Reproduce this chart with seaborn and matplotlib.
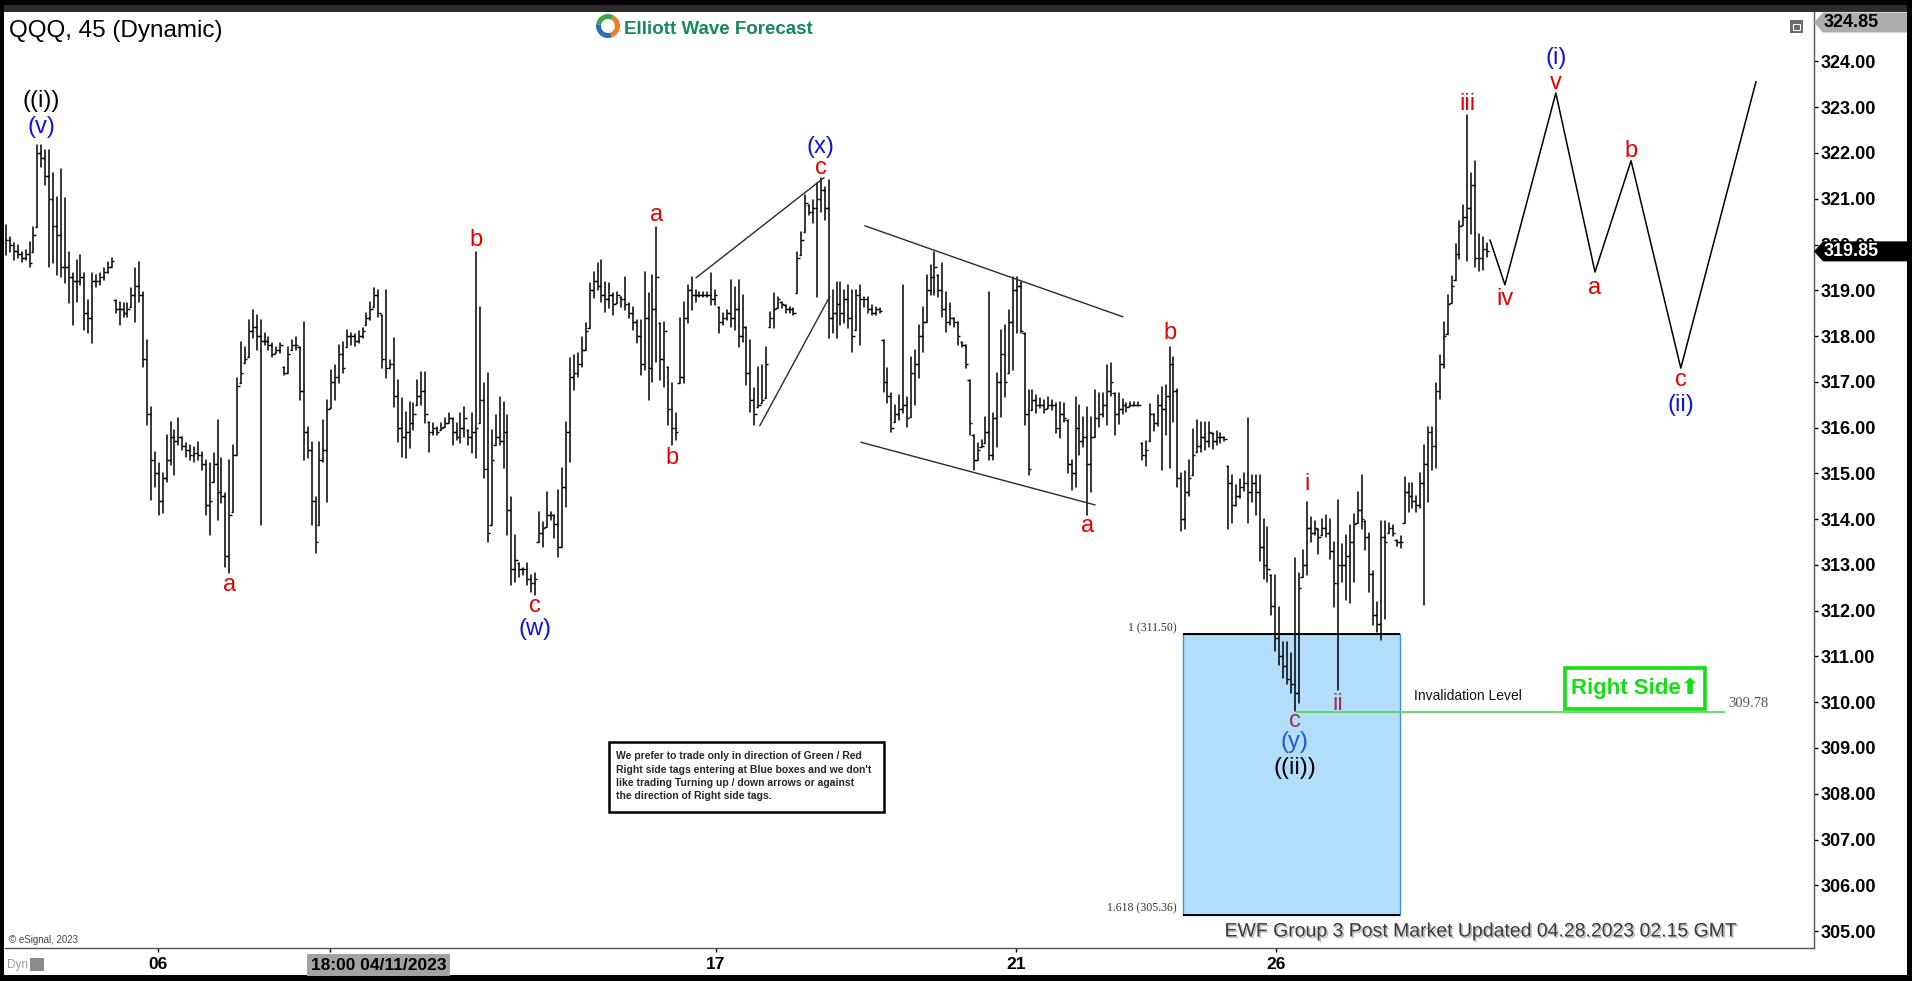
import numpy as np
import pandas as pd
import seaborn as sns
import matplotlib.pyplot as plt
from matplotlib import patches
from matplotlib.transforms import IdentityTransform
import matplotlib.patheffects as pe

# ---------------- DATA (QQQ 45 min bars) ----------------
high = [
    320.43, 320.16, 320.03, 319.99, 319.84, 319.88, 320.06, 320.39, 322.18, 322.18,
    322.07, 322.07, 321.57, 321.04, 321.65, 321.02, 319.84, 319.38, 319.66, 319.77,
    319.38, 318.79, 319.38, 319.34, 319.38, 319.49, 319.62, 319.71, 318.79, 318.75,
    318.72, 318.72, 319.05, 319.49, 319.62, 318.97, 317.92, 316.45, 315.47, 315.23,
    315.01, 315.84, 316.12, 315.95, 316.21, 315.80, 315.66, 315.62, 315.58, 315.68,
    315.47, 315.29, 315.23, 315.44, 316.17, 315.34, 314.57, 315.29, 315.62, 317.09,
    317.87, 317.76, 318.35, 318.57, 318.46, 318.35, 318.07, 317.98, 317.85, 317.76,
    317.85, 317.33, 317.76, 317.92, 317.98, 317.76, 318.31, 316.01, 315.68, 314.48,
    315.68, 316.17, 316.60, 317.26, 317.37, 317.81, 317.87, 318.13, 318.07, 318.05,
    318.10, 318.18, 318.50, 318.75, 319.05, 319.01, 318.46, 319.01, 317.48, 317.96,
    317.04, 316.65, 316.34, 316.56, 316.54, 317.04, 317.22, 317.22, 316.12, 316.10,
    316.01, 316.10, 316.21, 316.32, 316.21, 316.10, 316.32, 316.45, 315.95, 316.32,
    319.84, 318.64, 316.98, 317.19, 315.95, 316.28, 316.67, 316.56, 316.28, 314.48,
    313.65, 313.04, 312.93, 313.04, 312.78, 312.82, 314.16, 313.94, 314.59, 314.16,
    314.09, 314.64, 315.12, 316.12, 317.52, 317.59, 317.63, 317.98, 318.28, 319.16,
    319.40, 319.60, 319.66, 319.18, 319.16, 318.94, 318.97, 318.86, 319.29, 318.72,
    318.64, 318.35, 318.35, 319.40, 318.94, 319.34, 320.38, 318.28, 318.31, 317.33,
    316.98, 316.32, 318.40, 318.75, 319.12, 319.29, 319.01, 318.97, 318.97, 318.97,
    319.38, 319.01, 318.64, 318.50, 318.57, 319.23, 319.07, 319.23, 318.90, 318.20,
    317.92, 316.87, 317.33, 317.37, 317.76, 318.53, 318.94, 318.86, 318.75, 318.68,
    318.64, 318.61, 319.84, 320.28, 321.08, 320.87, 320.98, 321.35, 321.46, 321.26,
    321.41, 319.01, 319.18, 319.18, 319.01, 319.12, 319.01, 319.01, 319.12, 318.86,
    318.86, 318.68, 318.64, 318.61, 317.92, 317.30, 316.76, 316.50, 316.71, 319.12,
    316.67, 317.54, 317.70, 318.24, 318.64, 319.34, 319.55, 319.84, 319.34, 319.60,
    318.97, 318.72, 318.40, 318.31, 317.87, 317.81, 317.04, 315.84, 315.66, 315.73,
    316.23, 318.97, 316.32, 317.19, 318.13, 318.24, 318.57, 319.29, 319.29, 319.18,
    318.07, 316.82, 316.82, 316.71, 316.65, 316.60, 316.67, 316.60, 316.54, 316.56,
    316.54, 316.17, 315.29, 316.67, 316.50, 316.23, 316.45, 316.23, 316.82, 316.76,
    316.76, 317.37, 317.41, 316.76, 316.76, 316.63, 316.54, 316.55, 316.55, 316.55,
    315.66, 315.71, 316.52, 316.30, 316.71, 316.89, 316.93, 317.76, 317.54, 316.84,
    315.01, 315.05, 315.29, 315.97, 316.17, 316.12, 316.12, 316.12, 315.88, 315.93,
    315.88, 315.80, 315.16, 314.97, 314.75, 314.88, 315.01, 316.21, 314.97, 314.97,
    314.97, 314.00, 313.83, 312.78, 312.78, 312.08, 311.32, 311.32, 311.08, 313.15,
    312.82, 313.33, 314.37, 314.05, 313.96, 313.79, 314.00, 314.09, 314.00, 313.50,
    314.42, 313.46, 313.65, 313.87, 314.11, 314.59, 314.97, 313.96, 313.70, 312.87,
    312.19, 313.96, 313.96, 313.92, 313.87, 313.55, 313.63, 314.92, 314.79, 314.79,
    314.51, 315.01, 315.62, 316.01, 316.01, 316.98, 317.59, 318.31, 318.90, 319.31,
    320.01, 320.52, 320.87, 322.83, 321.57, 321.83, 320.23, 320.17, 320.04,
]
low = [
    319.77, 319.83, 319.66, 319.71, 319.62, 319.66, 319.51, 319.84, 320.39, 321.70,
    321.30, 319.51, 319.60, 319.34, 319.29, 319.16, 318.72, 318.24, 318.75, 319.12,
    318.13, 318.07, 317.85, 319.07, 319.12, 319.23, 319.38, 319.51, 318.50, 318.24,
    318.42, 318.42, 318.64, 318.31, 318.75, 317.33, 316.06, 314.42, 314.70, 314.09,
    314.14, 314.81, 315.18, 314.97, 315.62, 315.51, 315.36, 315.29, 315.25, 315.29,
    315.08, 314.09, 313.65, 314.81, 313.98, 314.35, 312.96, 312.82, 314.16, 315.40,
    316.98, 317.41, 317.54, 317.96, 317.70, 313.87, 317.81, 317.70, 317.54, 317.63,
    317.63, 317.15, 317.19, 317.70, 317.70, 316.60, 315.29, 315.34, 313.87, 313.26,
    313.87, 315.25, 314.38, 316.43, 316.60, 316.98, 317.19, 317.76, 317.81, 317.78,
    317.85, 317.96, 318.24, 318.35, 318.64, 318.42, 317.30, 317.09, 317.30, 316.45,
    315.69, 315.36, 315.34, 315.56, 315.95, 316.50, 316.50, 316.10, 315.47, 315.84,
    315.84, 315.95, 316.01, 316.10, 315.62, 315.73, 315.66, 315.80, 315.62, 315.45,
    315.34, 316.10, 314.90, 313.50, 313.87, 315.62, 315.62, 315.12, 313.65, 312.56,
    312.63, 312.74, 312.78, 312.56, 312.41, 312.34, 313.50, 313.39, 313.83, 313.98,
    313.59, 313.18, 313.39, 314.27, 315.25, 316.82, 317.11, 317.33, 317.70, 318.18,
    318.83, 319.01, 318.75, 318.53, 318.61, 318.46, 318.72, 318.64, 318.57, 318.40,
    318.13, 317.85, 317.15, 317.26, 316.60, 316.99, 317.44, 317.04, 316.89, 316.06,
    315.62, 315.73, 316.98, 316.98, 318.29, 318.57, 318.75, 318.86, 318.86, 318.86,
    318.68, 318.68, 318.07, 318.24, 318.35, 318.20, 318.13, 317.76, 317.87, 316.93,
    316.34, 316.06, 316.45, 316.54, 316.65, 318.20, 318.18, 318.61, 318.61, 318.50,
    318.50, 318.46, 318.94, 319.77, 320.28, 320.65, 320.47, 318.86, 320.71, 320.54,
    317.96, 318.07, 317.96, 318.24, 318.29, 318.18, 317.65, 318.13, 317.81, 318.64,
    318.50, 318.46, 318.46, 318.50, 316.78, 316.54, 315.91, 316.12, 316.17, 316.32,
    316.01, 316.23, 316.50, 317.09, 317.65, 318.31, 318.90, 318.90, 318.86, 318.42,
    318.09, 318.24, 318.20, 317.81, 317.76, 317.30, 315.84, 315.08, 315.29, 315.58,
    315.66, 315.29, 315.29, 315.58, 316.23, 316.67, 317.19, 317.26, 318.07, 318.07,
    316.06, 314.97, 316.39, 316.32, 316.43, 316.32, 316.43, 316.39, 315.88, 315.77,
    316.12, 315.01, 314.64, 314.70, 315.40, 315.58, 314.09, 314.59, 315.80, 316.01,
    316.23, 316.06, 316.69, 315.84, 316.08, 316.30, 316.34, 316.47, 316.47, 316.47,
    315.29, 315.16, 315.71, 315.93, 316.04, 315.08, 315.84, 315.12, 316.12, 314.70,
    313.74, 313.79, 314.51, 314.97, 315.47, 315.47, 315.51, 315.58, 315.53, 315.62,
    315.66, 315.71, 313.79, 313.92, 314.29, 314.46, 314.62, 313.92, 314.38, 314.09,
    313.09, 312.69, 312.63, 311.91, 311.12, 310.81, 310.53, 310.40, 310.20, 309.81,
    309.98, 312.74, 312.78, 313.50, 313.65, 313.24, 313.65, 313.61, 313.13, 312.08,
    310.27, 312.63, 312.23, 312.17, 312.63, 313.92, 313.79, 313.33, 312.41, 311.69,
    311.53, 311.36, 311.82, 313.70, 313.63, 313.42, 313.37, 313.92, 314.16, 314.25,
    314.16, 314.25, 312.12, 314.38, 315.08, 315.12, 316.63, 317.30, 318.05, 318.72,
    319.23, 319.69, 320.43, 319.64, 320.23, 319.51, 319.42, 319.45, 319.73,
]
close = [
    320.10, 320.00, 319.85, 319.80, 319.70, 319.80, 319.60, 320.20, 322.00, 321.90,
    321.50, 321.00, 320.40, 320.20, 319.50, 319.50, 319.30, 319.20, 319.20, 319.30,
    318.50, 318.40, 319.20, 319.20, 319.30, 319.40, 319.50, 319.65, 318.60, 318.60,
    318.50, 318.60, 318.90, 319.10, 318.90, 317.50, 316.30, 315.30, 315.00, 314.40,
    314.90, 315.30, 315.80, 315.70, 315.80, 315.60, 315.50, 315.40, 315.45, 315.40,
    315.20, 314.30, 314.40, 315.20, 314.60, 314.50, 313.20, 314.10, 315.40, 316.90,
    317.20, 317.50, 318.10, 318.20, 318.00, 317.90, 317.90, 317.80, 317.60, 317.70,
    317.80, 317.20, 317.60, 317.80, 317.80, 316.80, 315.90, 315.50, 314.40, 313.50,
    315.30, 315.50, 316.40, 317.00, 317.10, 317.60, 317.30, 318.00, 318.00, 317.90,
    318.00, 318.10, 318.40, 318.60, 318.90, 318.50, 317.50, 317.30, 317.40, 316.70,
    316.00, 315.80, 315.90, 316.10, 316.30, 316.70, 316.80, 316.30, 315.90, 316.00,
    315.90, 316.00, 316.10, 316.20, 315.90, 315.80, 316.00, 316.20, 315.80, 315.90,
    316.00, 316.60, 315.10, 313.70, 315.30, 315.80, 315.70, 315.90, 314.20, 312.90,
    313.10, 312.90, 312.90, 312.70, 312.60, 312.70, 313.70, 313.80, 314.10, 314.10,
    313.90, 313.40, 314.70, 315.90, 317.10, 317.20, 317.40, 317.70, 318.10, 319.00,
    319.20, 319.10, 318.90, 318.80, 318.90, 318.70, 318.90, 318.80, 318.70, 318.50,
    318.30, 318.00, 317.40, 318.40, 317.30, 318.60, 319.30, 317.50, 318.10, 316.40,
    316.00, 315.90, 317.10, 318.40, 319.00, 318.90, 318.90, 318.90, 318.90, 318.90,
    318.80, 318.90, 318.30, 318.40, 318.50, 318.40, 318.60, 318.00, 318.20, 317.20,
    316.60, 316.30, 316.50, 316.60, 317.40, 318.40, 318.60, 318.80, 318.70, 318.60,
    318.60, 318.50, 319.70, 320.10, 320.90, 320.70, 320.80, 321.00, 321.20, 320.80,
    318.40, 318.50, 318.70, 318.50, 318.80, 318.40, 318.00, 318.90, 318.80, 318.80,
    318.60, 318.50, 318.60, 318.55, 317.00, 316.70, 316.00, 316.30, 316.40, 316.50,
    316.20, 317.20, 317.40, 318.00, 318.30, 319.00, 319.30, 319.50, 319.00, 318.60,
    318.30, 318.40, 318.30, 318.00, 317.80, 317.40, 316.10, 315.30, 315.50, 315.60,
    315.90, 315.40, 316.20, 317.00, 317.60, 317.00, 318.30, 319.00, 319.10, 318.10,
    316.30, 315.10, 316.60, 316.50, 316.50, 316.40, 316.50, 316.50, 316.00, 316.30,
    316.20, 315.20, 315.00, 316.00, 315.70, 315.80, 315.20, 315.80, 316.20, 316.30,
    316.50, 316.80, 317.00, 316.30, 316.40, 316.50, 316.45, 316.50, 316.50, 316.50,
    315.40, 315.50, 316.30, 316.10, 316.50, 316.40, 316.70, 317.40, 316.80, 314.90,
    314.00, 314.60, 314.90, 315.40, 315.60, 315.80, 315.70, 315.90, 315.70, 315.80,
    315.80, 315.75, 314.80, 314.30, 314.50, 314.70, 314.80, 314.60, 314.80, 314.60,
    313.40, 313.00, 312.90, 312.10, 311.40, 311.00, 310.80, 310.50, 310.40, 310.20,
    312.50, 313.00, 313.80, 313.70, 313.80, 313.60, 313.80, 313.70, 313.30, 312.60,
    313.00, 313.00, 313.20, 313.50, 313.90, 314.20, 314.00, 313.60, 312.80, 311.90,
    311.70, 313.60, 313.50, 313.80, 313.70, 313.50, 313.50, 314.60, 314.50, 314.40,
    314.30, 314.80, 315.20, 315.90, 315.60, 316.80, 317.40, 318.00, 318.70, 319.10,
    319.80, 320.40, 320.60, 320.80, 321.30, 319.70, 319.70, 319.90, 319.85,
]

# x axis: day marks (in bar index units)
day_ticks = [38.8, 82.7, 181.2, 257.8, 324.1]
day_labels = ["06", "", "17", "21", "26"]

# projected path (i) v - (ii) abc, in bar index / price
proj_t = [378.8, 382.6, 395.6, 405.6, 414.8, 427.5, 446.7]
proj_p = [320.10, 319.12, 323.31, 319.40, 321.83, 317.30, 323.56]

# analyst trend lines (start/end in bar index / price)
trend_t = [[176.1, 208.8], [192.4, 210.3], [219.2, 285.1], [218.2, 278.0]]
trend_p = [[319.27, 321.46], [316.04, 318.87], [320.41, 318.42], [315.68, 314.31]]

# blue box and invalidation
box_t = [300.4, 355.8]
box_p = [305.36, 311.50]
invalid_t = [329.3, 438.9]
invalid_p = 309.78
last_price = 319.85
top_price = 324.85

RED = "#E60000"
BLUE = "#1010E0"
MAROON = "#A3304E"
BLUE2 = "#2256D8"

# ---------------- FIGURE ----------------
sns.set_style("white")
plt.rcParams["font.family"] = ["Liberation Sans", "DejaVu Sans"]

W, H = 1912, 981
fig = plt.figure(figsize=(W / 100, H / 100), dpi=100, facecolor="black")


def P(x, y):
    return (x / W, 1 - y / H)


def rect_px(x0, y0, x1, y1, **kw):
    r = patches.Rectangle(P(x0, y1), (x1 - x0) / W, (y1 - y0) / H,
                          transform=fig.transFigure, **kw)
    fig.add_artist(r)
    return r


rect_px(4, 12, 1907, 975, fc="white", ec="none", zorder=-5)
rect_px(4, 5, 1907, 12, fc="#2c2c2c", ec="none", zorder=-5)

ax = fig.add_axes([5 / W, 1 - 948 / H, (1814 - 5) / W, (948 - 12) / H])
ax.set_facecolor("white")

# OHLC bars through seaborn (one unit per bar)
t = np.arange(len(high))
bars = pd.DataFrame({"t": np.r_[t, t], "price": np.r_[high, low], "bar": np.r_[t, t]})
sns.lineplot(data=bars, x="t", y="price", units="bar", estimator=None, sort=False,
             color="black", lw=1.1, legend=False, ax=ax, zorder=3)
opens = np.clip(np.r_[close[0], close[:-1]], low, high)
ax.hlines(opens, t - 0.6, t, color="black", lw=1.0, zorder=3)
ax.hlines(close, t, t + 0.6, color="black", lw=1.0, zorder=3)

# trend lines
tr = pd.DataFrame({"t": np.ravel(trend_t), "p": np.ravel(trend_p),
                   "line": np.repeat(np.arange(len(trend_t)), 2)})
sns.lineplot(data=tr, x="t", y="p", units="line", estimator=None, sort=False,
             color="#2a2a2a", lw=1.0, legend=False, ax=ax, zorder=3)

# projection
sns.lineplot(x=proj_t, y=proj_p, sort=False, color="black", lw=1.1, ax=ax, zorder=3)

# blue box
ax.add_patch(patches.Rectangle((box_t[0], box_p[0]), box_t[1] - box_t[0], box_p[1] - box_p[0],
                               fc="#B3DEFB", ec="#3D8FDB", lw=1.0, zorder=1))
ax.hlines(box_p, box_t[0], box_t[1], color="black", lw=1.4, zorder=2)
ax.annotate("1 (311.50)", (box_t[0], box_p[1]), xytext=(-6, 5), textcoords="offset pixels",
            ha="right", va="center", fontsize=8.5, color="#333", family="Liberation Serif")
ax.annotate("1.618 (305.36)", (box_t[0], box_p[0]), xytext=(-6, 6), textcoords="offset pixels",
            ha="right", va="center", fontsize=8.5, color="#333", family="Liberation Serif")

# invalidation line
ax.hlines(invalid_p, invalid_t[0], invalid_t[1], color="#58D858", lw=1.3, zorder=4)
ax.annotate("Invalidation Level", (359.4, invalid_p), xytext=(0, 16), textcoords="offset pixels",
            ha="left", va="center", fontsize=10, color="#111")
ax.annotate(f"{invalid_p:.2f}", (invalid_t[1], invalid_p), xytext=(3, 9), textcoords="offset pixels",
            ha="left", va="center", fontsize=10.5, color="#555", family="Liberation Serif")

# right side tag
ax.add_patch(patches.Rectangle((397.9, 309.85), 35.7, 0.90, fc="white", ec="#12E012", lw=2.6, zorder=4))
ax.text(415.8, 310.30, "Right Side\u2B06", ha="center", va="center", color="#12E012",
        fontsize=16, fontweight="bold", zorder=5, family=["Liberation Sans", "DejaVu Sans"])

# disclaimer box
ax.add_patch(patches.Rectangle((153.9, 307.60), 70.2, 1.53, fc="white", ec="black", lw=1.8, zorder=4))
ax.text(155.7, 308.38,
        "We prefer to trade only in direction of Green / Red\n"
        "Right side tags entering at Blue boxes and we don't\n"
        "like trading Turning up / down arrows or against\n"
        "the direction of Right side tags.",
        ha="left", va="center", fontsize=7.5, fontweight="bold", linespacing=1.42, zorder=5)

# wave labels on bars: text, colour, bar, side, dy (px)
bar_labels = [
    ("((i))", "black", 9, "h", 44), ("(v)", BLUE, 9, "h", 18),
    ("a", RED, 57, "l", -12), ("b", RED, 120, "h", 12),
    ("c", RED, 135, "l", -11), ("(w)", BLUE, 135, "l", -34),
    ("a", RED, 166, "h", 12), ("b", RED, 170, "l", -13),
    ("(x)", BLUE, 208, "h", 31), ("c", RED, 208, "h", 10),
    ("a", RED, 276, "l", -11), ("b", RED, 297, "h", 14),
    ("i", RED, 332, "h", 18), ("ii", MAROON, 340, "l", -14),
    ("c", MAROON, 329, "l", -10), ("(y)", BLUE2, 329, "l", -31),
    ("((ii))", "black", 329, "l", -57), ("iii", RED, 373, "h", 11),
]
for txt, col, i, side, dy in bar_labels:
    yv = high[i] if side == "h" else low[i]
    ax.annotate(txt, (i, yv), xytext=(0, dy), textcoords="offset pixels",
                ha="center", va="center", color=col, fontsize=17, zorder=6)

proj_labels = [
    ("iv", RED, 1, -14), ("v", RED, 2, 10), ("(i)", BLUE, 2, 35),
    ("a", RED, 3, -16), ("b", RED, 4, 10), ("c", RED, 5, -12), ("(ii)", BLUE, 5, -37),
]
for txt, col, k, dy in proj_labels:
    ax.annotate(txt, (proj_t[k], proj_p[k]), xytext=(0, dy), textcoords="offset pixels",
                ha="center", va="center", color=col, fontsize=17, zorder=6)

# axes
ax.set_xlim(-0.26, 461.5)
ax.set_ylim(304.63, 325.08)
ax.set_xlabel("")
ax.set_ylabel("")
ax.yaxis.tick_right()
yt = np.arange(305, 325)
ax.set_yticks(yt)
ax.set_yticklabels([f"{v:.2f}" for v in yt])
ax.set_xticks(day_ticks)
ax.set_xticklabels(day_labels)
ax.tick_params(axis="y", right=True, left=False, length=3, width=1, pad=2, labelsize=13, colors="black")
ax.tick_params(axis="x", bottom=True, length=3, width=1, pad=3.5, labelsize=12.5, colors="black")
for lbl in ax.get_xticklabels() + ax.get_yticklabels():
    lbl.set_fontweight("bold")
for s in ["top", "left"]:
    ax.spines[s].set_visible(False)
for s in ["right", "bottom"]:
    ax.spines[s].set_color("#555")
    ax.spines[s].set_linewidth(1)

ax.annotate("18:00 04/11/2023", (day_ticks[1], 0), xycoords=("data", "axes fraction"),
            xytext=(-19, -17), textcoords="offset pixels", ha="left", va="center",
            fontsize=12.5, fontweight="bold", color="black", annotation_clip=False,
            bbox=dict(boxstyle="square,pad=0.22", fc="#A3A3A3", ec="none"))


# price tags on the right scale
def py(price):
    return H - ax.transData.transform((0, price))[1]


def price_tag(price, fc, tc):
    yc = py(price)
    verts = [P(1814, yc), P(1823, yc - 10), P(1907, yc - 10), P(1907, yc + 10), P(1823, yc + 10)]
    fig.add_artist(patches.Polygon(verts, closed=True, transform=fig.transFigure,
                                   fc=fc, ec="none", zorder=10))
    fig.text(*P(1824, yc), f"{price:.2f}", ha="left", va="center", fontsize=13,
             fontweight="bold", color=tc, zorder=11)


price_tag(top_price, "#ADADAD", "black")
price_tag(last_price, "black", "white")

# chrome texts
fig.text(*P(9, 37), "QQQ, 45 (Dynamic)", ha="left", va="baseline", fontsize=17.5, color="black")
for th1, th2, col in [(60, 170, "#3CA84A"), (170, 290, "#2A6FB8"), (290, 420, "#F07A22")]:
    fig.add_artist(patches.Wedge((608, H - 26), 12, th1, th2, width=5,
                                 transform=IdentityTransform(), fc=col, ec="none"))
fig.text(*P(624, 34), "Elliott Wave Forecast", ha="left", va="baseline", fontsize=13.5,
         fontweight="bold", color="#17875F")
rect_px(1790, 20, 1803, 33, fc="#6b6b6b", ec="none", zorder=5)
rect_px(1793, 24, 1800, 30, fc="none", ec="white", lw=0.8, zorder=6)

fig.text(*P(9, 940), "\u00a9 eSignal, 2023", ha="left", va="center", fontsize=7, color="#444")
fig.text(*P(7, 965), "Dyn", ha="left", va="center", fontsize=8.5, color="#9a9a9a")
rect_px(30, 958, 44, 971, fc="#8a8a8a", ec="none", zorder=5)

fig.text(*P(1482, 932), "EWF Group 3 Post Market Updated 04.28.2023 02.15 GMT",
         ha="center", va="center", fontsize=14, color="#3a3a3a",
         path_effects=[pe.SimplePatchShadow(offset=(1.2, -1.2), shadow_rgbFace="#bdbdbd", alpha=1),
                       pe.Normal()])

fig.savefig("out.png", dpi=100, facecolor="black")
